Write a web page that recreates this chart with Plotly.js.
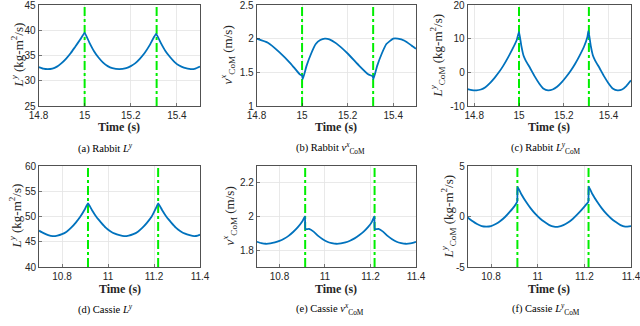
<!DOCTYPE html>
<html>
<head>
<meta charset="utf-8">
<script src="https://cdn.plot.ly/plotly-3.0.1.min.js"></script>
<style>
  html, body { margin: 0; padding: 0; background: #fff; }
  #chart { width: 640px; height: 326px; }
</style>
</head>
<body>
<div id="chart"></div>
<script>
// (a) Rabbit L^y
const rabbitLyT = [14.80, 14.82, 14.84, 14.86, 14.88, 14.90, 14.92, 14.94, 14.96, 14.98, 15.00, 15.02, 15.04, 15.06, 15.08, 15.10, 15.12, 15.15, 15.18, 15.20, 15.22, 15.24, 15.26, 15.28, 15.30, 15.31, 15.33, 15.35, 15.37, 15.39, 15.41, 15.43, 15.46, 15.48, 15.50];
const rabbitLy = [32.7, 32.4, 32.3, 32.4, 32.8, 33.5, 34.4, 35.5, 36.8, 38.1, 39.5, 37.6, 35.9, 34.6, 33.6, 32.9, 32.5, 32.3, 32.5, 32.9, 33.5, 34.4, 35.5, 36.9, 38.6, 39.3, 37.5, 35.9, 34.7, 33.7, 33.0, 32.6, 32.3, 32.4, 32.8];

// (b) Rabbit v^x_CoM
const rabbitVxT = [14.80, 14.85, 14.90, 14.95, 14.99, 15.00, 15.003, 15.02, 15.04, 15.06, 15.08, 15.10, 15.12, 15.15, 15.20, 15.25, 15.29, 15.31, 15.313, 15.33, 15.35, 15.37, 15.40, 15.42, 15.45, 15.48, 15.50];
const rabbitVx = [2.00, 1.94, 1.80, 1.63, 1.47, 1.45, 1.40, 1.60, 1.78, 1.92, 1.98, 2.00, 1.99, 1.93, 1.78, 1.60, 1.47, 1.44, 1.40, 1.60, 1.78, 1.92, 2.00, 2.00, 1.97, 1.90, 1.85];

// (c) Rabbit L^y_CoM
const rabbitLcT = [14.77, 14.79, 14.81, 14.83, 14.85, 14.87, 14.89, 14.91, 14.93, 14.95, 14.97, 14.99, 15.00, 15.01, 15.02, 15.03, 15.05, 15.07, 15.09, 15.11, 15.13, 15.15, 15.17, 15.19, 15.21, 15.23, 15.25, 15.27, 15.29, 15.305, 15.31, 15.32, 15.33, 15.34, 15.36, 15.38, 15.40, 15.42, 15.44, 15.46, 15.48, 15.50];
const rabbitLc = [-5.0, -5.3, -5.35, -5.1, -4.4, -3.2, -1.7, 0.0, 2.0, 4.3, 6.8, 9.6, 12.0, 8.0, 5.0, 3.5, 1.2, -1.2, -3.3, -4.9, -5.35, -5.1, -4.3, -3.0, -1.4, 0.4, 2.5, 4.9, 7.6, 10.4, 12.3, 8.0, 5.0, 3.5, 1.2, -1.2, -3.3, -4.9, -5.35, -5.1, -4.0, -2.4];

// (d) Cassie L^y
const cassieLyT = [10.70, 10.72, 10.74, 10.76, 10.78, 10.80, 10.82, 10.84, 10.86, 10.88, 10.90, 10.913, 10.93, 10.95, 10.97, 10.99, 11.01, 11.03, 11.05, 11.07, 11.09, 11.11, 11.13, 11.15, 11.17, 11.19, 11.21, 11.218, 11.235, 11.255, 11.275, 11.295, 11.315, 11.335, 11.355, 11.375, 11.39, 11.40];
const cassieLy = [47.2, 46.7, 46.3, 46.1, 46.2, 46.5, 47.0, 47.8, 48.8, 50.0, 51.5, 52.6, 51.3, 49.9, 48.8, 47.8, 47.1, 46.6, 46.3, 46.1, 46.2, 46.5, 47.0, 47.8, 48.8, 50.0, 51.8, 52.6, 51.3, 49.9, 48.8, 47.8, 47.1, 46.6, 46.3, 46.1, 46.2, 46.4];

// (e) Cassie v^x_CoM
const cassieVxT = [10.70, 10.72, 10.74, 10.76, 10.78, 10.80, 10.82, 10.84, 10.86, 10.88, 10.90, 10.912, 10.914, 10.93, 10.95, 10.97, 10.99, 11.01, 11.03, 11.05, 11.07, 11.09, 11.11, 11.13, 11.15, 11.17, 11.19, 11.205, 11.217, 11.219, 11.235, 11.255, 11.275, 11.295, 11.315, 11.335, 11.355, 11.375, 11.39, 11.40];
const cassieVx = [1.850, 1.842, 1.838, 1.840, 1.846, 1.855, 1.868, 1.885, 1.908, 1.935, 1.970, 2.000, 1.925, 1.926, 1.910, 1.885, 1.865, 1.850, 1.842, 1.838, 1.840, 1.846, 1.856, 1.870, 1.888, 1.910, 1.938, 1.965, 2.000, 1.925, 1.926, 1.910, 1.885, 1.865, 1.850, 1.842, 1.838, 1.840, 1.845, 1.850];

// (f) Cassie L^y_CoM
const cassieLcT = [10.70, 10.72, 10.74, 10.76, 10.78, 10.80, 10.82, 10.84, 10.86, 10.88, 10.90, 10.912, 10.914, 10.93, 10.95, 10.97, 10.99, 11.01, 11.03, 11.05, 11.07, 11.09, 11.11, 11.13, 11.15, 11.17, 11.19, 11.21, 11.217, 11.219, 11.235, 11.255, 11.275, 11.295, 11.315, 11.335, 11.355, 11.375, 11.40];
const cassieLc = [-0.1, -0.45, -0.75, -0.95, -1.0, -0.95, -0.75, -0.45, -0.05, 0.45, 1.0, 1.45, 2.9, 2.2, 1.45, 0.8, 0.25, -0.2, -0.55, -0.85, -1.0, -1.0, -0.85, -0.6, -0.25, 0.2, 0.7, 1.25, 1.45, 2.95, 2.2, 1.45, 0.8, 0.25, -0.2, -0.55, -0.85, -1.0, -0.95];

// impact instants (green dash-dot lines)
const rabbitImpacts = [15.0, 15.312];
const cassieImpacts = [10.913, 11.218];

// tick labels
const rabbitXTicks = [14.8, 15, 15.2, 15.4];
const cassieXTicks = [10.8, 11, 11.2, 11.4];
const yTicksA = [25, 30, 35, 40, 45];
const yTicksB = [1, 1.5, 2, 2.5];
const yTicksC = [-10, 0, 10, 20];
const yTicksD = [40, 45, 50, 55, 60];
const yTicksE = [1.8, 2, 2.2];
const yTicksF = [-5, 0, 5];

const W = 640, H = 326;
const px = v => v / W;
const py = v => 1 - v / H;

const BLUE = '#0072BD';
const GREEN = '#00EE00';
const tickFont = { family: 'Liberation Sans, Arial, sans-serif', size: 10, color: '#262626' };
const serif = 'Liberation Serif, Times New Roman, serif';

const panels = [
  { t: rabbitLyT, v: rabbitLy, imp: rabbitImpacts, xr: [14.8, 15.5], yr: [25, 45], xt: rabbitXTicks, yt: yTicksA,
    x0: 38.5, x1: 200, y0: 5, y1: 106, ylab: '<i>L<sup>y</sup></i> (kg-m<sup>2</sup>/s)', ylx: 17,
    cap: '(a) Rabbit <i>L<sup>y</sup></i>', capx: 105 },
  { t: rabbitVxT, v: rabbitVx, imp: rabbitImpacts, xr: [14.8, 15.5], yr: [1, 2.5], xt: rabbitXTicks, yt: yTicksB,
    x0: 256.5, x1: 416, y0: 5, y1: 106, ylab: '<i>v</i><sup><i>x</i></sup><sub>CoM</sub> (m/s)', ylx: 227,
    cap: '(b) Rabbit <i>v</i><sup><i>x</i></sup><sub>CoM</sub>', capx: 330 },
  { t: rabbitLcT, v: rabbitLc, imp: rabbitImpacts, xr: [14.77, 15.5], yr: [-10, 20], xt: rabbitXTicks, yt: yTicksC,
    x0: 467.5, x1: 631, y0: 5, y1: 106, ylab: '<i>L</i><sup><i>y</i></sup><sub>CoM</sub> (kg-m<sup>2</sup>/s)', ylx: 437,
    cap: '(c) Rabbit <i>L</i><sup><i>y</i></sup><sub>CoM</sub>', capx: 546 },
  { t: cassieLyT, v: cassieLy, imp: cassieImpacts, xr: [10.7, 11.4], yr: [40, 60], xt: cassieXTicks, yt: yTicksD,
    x0: 39, x1: 200, y0: 166, y1: 267, ylab: '<i>L<sup>y</sup></i> (kg-m<sup>2</sup>/s)', ylx: 15,
    cap: '(d) Cassie <i>L<sup>y</sup></i>', capx: 105 },
  { t: cassieVxT, v: cassieVx, imp: cassieImpacts, xr: [10.7, 11.4], yr: [1.7, 2.3], xt: cassieXTicks, yt: yTicksE,
    x0: 256.7, x1: 416, y0: 166, y1: 267, ylab: '<i>v</i><sup><i>x</i></sup><sub>CoM</sub> (m/s)', ylx: 229,
    cap: '(e) Cassie <i>v</i><sup><i>x</i></sup><sub>CoM</sub>', capx: 330 },
  { t: cassieLcT, v: cassieLc, imp: cassieImpacts, xr: [10.7, 11.4], yr: [-5, 5], xt: cassieXTicks, yt: yTicksF,
    x0: 467.7, x1: 631, y0: 166, y1: 267, ylab: '<i>L</i><sup><i>y</i></sup><sub>CoM</sub> (kg-m<sup>2</sup>/s)', ylx: 448,
    cap: '(f) Cassie <i>L</i><sup><i>y</i></sup><sub>CoM</sub>', capx: 546 }
];

const traces = [];
const layout = {
  width: W, height: H,
  margin: { l: 0, r: 0, t: 0, b: 0 },
  paper_bgcolor: '#fff', plot_bgcolor: '#fff',
  showlegend: false,
  annotations: []
};

panels.forEach((p, i) => {
  const n = i + 1;
  const xa = n === 1 ? 'x' : 'x' + n;
  const ya = n === 1 ? 'y' : 'y' + n;
  const xKey = n === 1 ? 'xaxis' : 'xaxis' + n;
  const yKey = n === 1 ? 'yaxis' : 'yaxis' + n;

  p.imp.forEach(t => {
    traces.push({
      x: [t, t], y: p.yr, xaxis: xa, yaxis: ya, type: 'scatter', mode: 'lines',
      line: { color: GREEN, width: 2, dash: 'dashdot' }, hoverinfo: 'skip'
    });
  });
  traces.push({
    x: p.t, y: p.v, xaxis: xa, yaxis: ya, type: 'scatter', mode: 'lines',
    line: { color: BLUE, width: 1.8, shape: 'spline', smoothing: 0.4 }
  });

  const common = {
    showline: true, mirror: true, linecolor: '#262626', linewidth: 0.8,
    ticks: 'inside', ticklen: 3, tickcolor: '#262626', tickwidth: 0.6,
    showgrid: true, gridcolor: '#e4e4e4', gridwidth: 0.8,
    zeroline: false, tickfont: tickFont, fixedrange: true,
    ticklabeloverflow: 'allow', automargin: false
  };
  layout[xKey] = Object.assign({}, common, {
    domain: [px(p.x0), px(p.x1)], range: p.xr, anchor: ya,
    tickmode: 'array', tickvals: p.xt, ticktext: p.xt.map(String)
  });
  layout[yKey] = Object.assign({}, common, {
    domain: [py(p.y1), py(p.y0)], range: p.yr, anchor: xa,
    tickmode: 'array', tickvals: p.yt, ticktext: p.yt.map(String)
  });

  const cx = (p.x0 + p.x1) / 2;
  const rowTop = p.y0 < 100;
  layout.annotations.push({
    text: p.ylab, textangle: -90, xref: 'paper', yref: 'paper',
    x: px(p.ylx), y: py((p.y0 + p.y1) / 2), xanchor: 'center', yanchor: 'middle',
    showarrow: false, font: { family: serif, size: 13, color: '#262626' }
  });
  layout.annotations.push({
    text: '<b>Time (s)</b>', xref: 'paper', yref: 'paper',
    x: px(cx), y: py(rowTop ? 127 : 288.5), xanchor: 'center', yanchor: 'middle',
    showarrow: false, font: { family: serif, size: 12, color: '#262626' }
  });
  layout.annotations.push({
    text: p.cap, xref: 'paper', yref: 'paper',
    x: px(p.capx), y: py(rowTop ? 148 : 308.5), xanchor: 'center', yanchor: 'middle',
    showarrow: false, font: { family: serif, size: 10.5, color: '#000' }
  });
});

Plotly.newPlot('chart', traces, layout, { displayModeBar: false, staticPlot: true });
</script>
</body>
</html>
